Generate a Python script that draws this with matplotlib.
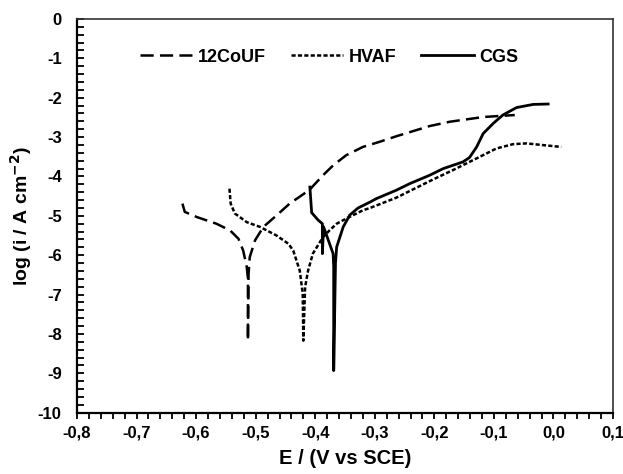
import matplotlib.pyplot as plt
from matplotlib.ticker import MultipleLocator, FuncFormatter

plt.rcParams['font.family'] = ['Liberation Sans', 'DejaVu Sans']
plt.rcParams['font.weight'] = 'bold'
plt.rcParams['mathtext.default'] = 'bf'
plt.rcParams['lines.scale_dashes'] = False

# potential (V vs SCE) and log current density
e_12couf = [-0.623, -0.619, -0.599, -0.566, -0.543, -0.529, -0.521, -0.515, -0.513, -0.513,
            -0.512, -0.510, -0.501, -0.487, -0.465, -0.443, -0.420, -0.409, -0.387, -0.370,
            -0.348, -0.320, -0.292, -0.264, -0.208, -0.174, -0.118, -0.065]
log_12couf = [-4.69, -4.90, -5.03, -5.20, -5.37, -5.58, -5.88, -6.30, -6.60, -8.17,
              -6.50, -6.05, -5.62, -5.28, -4.99, -4.69, -4.45, -4.33, -3.97, -3.72,
              -3.46, -3.25, -3.12, -2.98, -2.72, -2.61, -2.49, -2.44]

e_hvaf = [-0.544, -0.542, -0.535, -0.515, -0.493, -0.465, -0.445, -0.437, -0.426, -0.421,
          -0.420, -0.417, -0.412, -0.404, -0.387, -0.376, -0.364, -0.348, -0.320, -0.308,
          -0.264, -0.208, -0.197, -0.169, -0.141, -0.113, -0.096, -0.068, -0.045, -0.020,
          0.013]
log_hvaf = [-4.31, -4.69, -4.94, -5.16, -5.28, -5.50, -5.71, -5.88, -6.39, -6.98,
            -8.17, -6.81, -6.39, -5.96, -5.54, -5.37, -5.20, -5.07, -4.86, -4.80,
            -4.54, -4.12, -4.04, -3.84, -3.63, -3.42, -3.29, -3.18, -3.16, -3.20,
            -3.25]

e_cgs = [-0.409, -0.406, -0.395, -0.388, -0.388, -0.386, -0.378, -0.370, -0.369, -0.369,
         -0.366, -0.364, -0.353, -0.342, -0.328, -0.308, -0.297, -0.275, -0.264, -0.241,
         -0.208, -0.185, -0.152, -0.141, -0.129, -0.118, -0.101, -0.085, -0.062, -0.034,
         -0.009]
log_cgs = [-4.27, -4.92, -5.11, -5.20, -5.96, -5.28, -5.62, -5.96, -6.30, -8.93,
           -6.20, -5.79, -5.28, -4.98, -4.80, -4.65, -4.56, -4.42, -4.35, -4.18,
           -3.97, -3.80, -3.63, -3.52, -3.25, -2.91, -2.65, -2.44, -2.25, -2.17,
           -2.16]

fig = plt.figure(figsize=(6.23, 4.74), dpi=100)
ax = fig.add_axes([0.1236, 0.1293, 0.8604, 0.8307])

ax.plot(e_12couf, log_12couf, color='black', lw=1.8, dashes=(9.5, 4.5), label='12CoUF')
ax.plot(e_hvaf, log_hvaf, color='black', lw=1.8, dashes=(3, 1.6), label='HVAF')
ax.plot(e_cgs, log_cgs, color='black', lw=2.0, label='CGS')

ax.set_xlim(-0.8, 0.1)
ax.set_ylim(-10, 0)
ax.xaxis.set_major_locator(MultipleLocator(0.1))
ax.xaxis.set_minor_locator(MultipleLocator(0.02))
ax.yaxis.set_major_locator(MultipleLocator(1))
ax.yaxis.set_minor_locator(MultipleLocator(0.2))
ax.xaxis.set_major_formatter(FuncFormatter(lambda v, p: f'{v:.1f}'.replace('.', ',').replace('-0,0', '0,0')))
ax.yaxis.set_major_formatter(FuncFormatter(lambda v, p: '0' if abs(v) < 0.5 else f'{v:.0f}'))

ax.tick_params(axis='x', which='both', direction='out', length=4, width=1.3, pad=5, labelsize=12)
ax.tick_params(axis='y', which='both', direction='in', length=5, width=1.3, pad=11, labelsize=12)

for side in ['left', 'bottom']:
    ax.spines[side].set_linewidth(1.6)
for side in ['top', 'right']:
    ax.spines[side].set_linewidth(1.2)
    ax.spines[side].set_color('#333333')

ax.set_xlabel('E / (V vs SCE)', fontsize=14.5, fontweight='bold', labelpad=6)
ax.set_ylabel('log (i / A cm$^{-2}$)', fontsize=14, fontweight='bold', labelpad=3)

ax.legend(loc='center left', bbox_to_anchor=(0.10, 0.903), ncol=3, frameon=False,
          handlelength=2.9, handletextpad=0.3, columnspacing=1.4, borderpad=0,
          prop={'weight': 'bold', 'size': 13})

fig.savefig('out.png', dpi=100)
